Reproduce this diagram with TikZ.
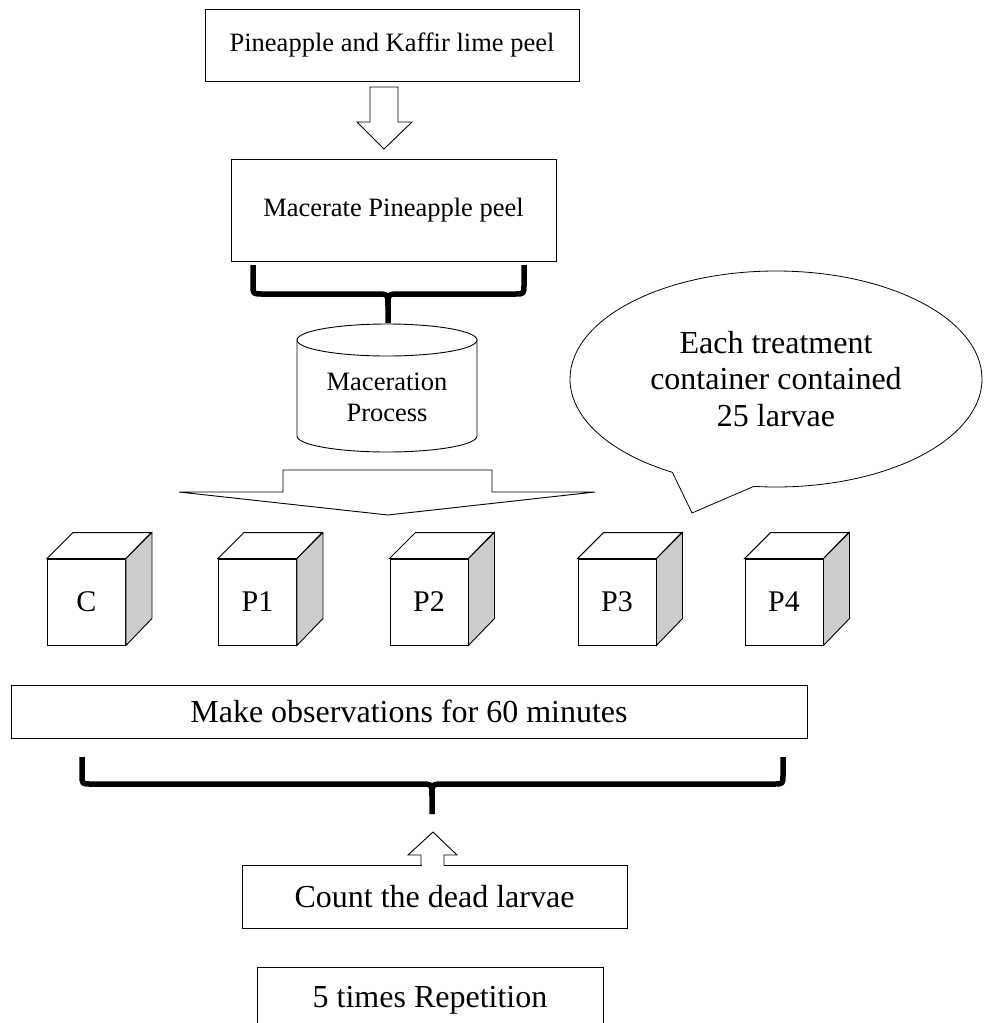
\documentclass[tikz,border=0pt]{standalone}
\usepackage{fontspec}
\setmainfont{Liberation Serif}
\usetikzlibrary{shapes.callouts, calc}

\begin{document}
\begin{tikzpicture}[
  x=1pt, y=-1pt,
  box/.style={draw, line width=0.9pt, align=center, inner sep=0pt},
  small/.style={font=\fontsize{26.5}{31}\selectfont},
  large/.style={font=\fontsize{32}{36.5}\selectfont},
  blockarr/.style={draw, line width=0.9pt, fill=white, line join=miter},
  brace/.style={line width=5.5pt, line cap=butt, line join=round},
  face/.style={draw, line width=0.9pt, fill=white, minimum width=78pt,
               minimum height=86pt, inner sep=0pt, font=\fontsize{30}{34}\selectfont}
]
  \useasboundingbox (0,0) rectangle (984,1023);

  % preparation
  \node[box, small, minimum width=374pt, minimum height=72pt]  (peel)     at (392,45)    {Pineapple and Kaffir lime peel};
  \node[box, small, minimum width=325pt, minimum height=102pt] (macerate) at (393.5,210) {Macerate Pineapple peel};
  \draw[blockarr] (370,87) -- (398,87) -- (398,122) -- (412,122) -- (384,149)
                  -- (357,122) -- (370,122) -- cycle;

  % maceration container
  \draw[line width=0.9pt] (297,340) -- (297,436)
    arc[start angle=180, end angle=0, x radius=90, y radius=16] -- (477,340);
  \draw[line width=0.9pt] (387,340) ellipse[x radius=90, y radius=16];
  \node[small, align=center] (process) at (387,397) {Maceration\\Process};

  \draw[brace] (253,265) -- (253,285) .. controls (253,294) .. (262,294) -- (376,294)
               .. controls (388,294) .. (388,306) -- (388,323);
  \draw[brace] (524,265) -- (524,285) .. controls (524,294) .. (515,294) -- (400,294)
               .. controls (388,294) .. (388,306);

  % split into treatments
  \draw[blockarr] (283,470) -- (492,470) -- (492,492) -- (595,492) -- (388,515)
                  -- (179,492) -- (283,492) -- cycle;

  \node[ellipse callout, draw, line width=0.8pt, minimum width=412pt, minimum height=216pt,
        callout absolute pointer={(692,513)}, callout pointer arc=24, large, align=center]
        (note) at (776,379) {Each treatment\\container contained\\25 larvae};

  \foreach \n/\x/\t in {c/86.5/C, p1/257.5/P1, p2/429/P2, p3/617/P3, p4/784/P4} {
    \node[face] (\n) at (\x,602) {\t};
    \draw[line width=0.9pt, fill=white] (\n.north west) -- ++(26,-26) -- ++(78,0)
      -- (\n.north east) -- cycle;
    \draw[line width=0.9pt, fill=black!20] (\n.north east) -- ++(26,-26) -- ++(0,86)
      -- (\n.south east) -- cycle;
  }

  % observation
  \node[box, large, minimum width=796pt, minimum height=53pt] (observe) at (409,711.5) {Make observations for 60 minutes};
  \draw[brace] (82,757) -- (82,775) .. controls (82,784) .. (91,784) -- (420,784)
               .. controls (432,784) .. (432,796) -- (432,814);
  \draw[brace] (783,757) -- (783,775) .. controls (783,784) .. (774,784) -- (444,784)
               .. controls (432,784) .. (432,796);

  \node[box, large, minimum width=385pt, minimum height=63pt] (count) at (434.5,896.5) {Count the dead larvae};
  \fill[white] (421.5,856) rectangle (443.5,866.5);
  \draw[blockarr, fill=none] (421,865.5) -- (421,855) -- (408,855) -- (433,832)
                  -- (457,855) -- (444,855) -- (444,865.5);

  \node[box, large, minimum width=346pt, minimum height=66pt] (rep) at (430,1000) {5 times Repetition};
\end{tikzpicture}
\end{document}
